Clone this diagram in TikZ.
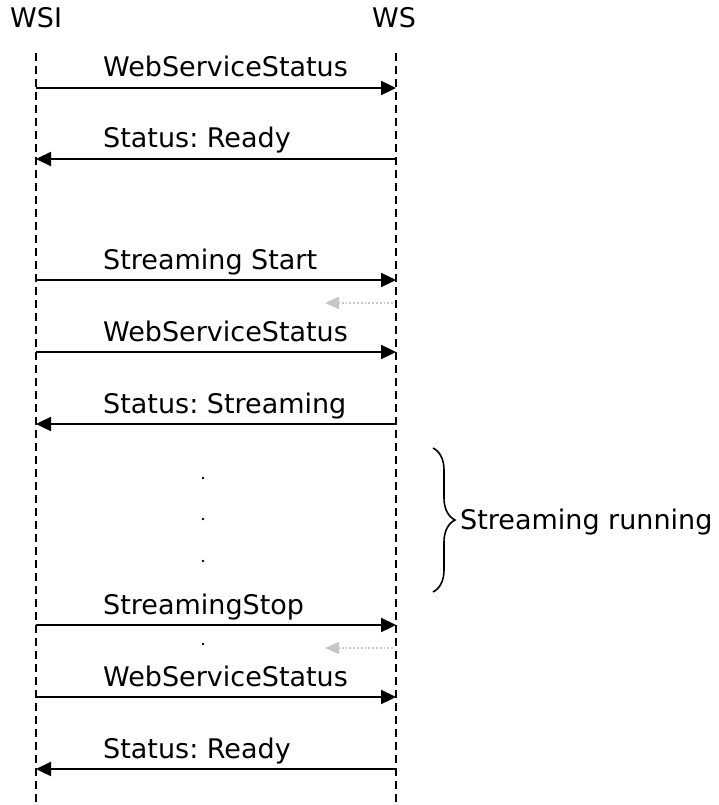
\documentclass[tikz,border=0pt]{standalone}
\usepackage{fontspec}
\setmainfont{DejaVu Sans}
\usetikzlibrary{arrows.meta,decorations.pathreplacing}
\begin{document}
\begin{tikzpicture}[x=1pt,y=-1pt,
  lbl/.style={font=\fontsize{27}{32}\selectfont, inner sep=0pt, anchor=base west},
  life/.style={dashed, dash pattern=on 8pt off 5pt, line width=1.4pt},
  msg/.style={line width=2.3pt, -{Triangle[length=15pt,width=14pt]}},
  back/.style={gray!45, dotted, line width=1.8pt, -{Triangle[length=14pt,width=12pt]}},
  dotmark/.style={circle, fill=black, inner sep=0pt, minimum size=2.6pt}]
\useasboundingbox (0,0) rectangle (718,805);
\node[lbl, anchor=base west] (wsi) at (10,28) {WSI};
\node[lbl, anchor=base west] (ws) at (372,28) {WS};
\coordinate (Lt) at (36,53); \coordinate (Lb) at (36,805);
\coordinate (Rt) at (396,53); \coordinate (Rb) at (396,805);
\draw[life] (Lt) -- (Lb);
\draw[life] (Rt) -- (Rb);
% messages
\foreach \n/\y in {a/88,b/159,c/280,d/303,e/352,f/424,g/625,h/648,i/697,j/769}{
  \coordinate (L\n) at (36,\y); \coordinate (R\n) at (396,\y);}
\coordinate (Gd) at (325,303); \coordinate (Gh) at (325,648);
\coordinate (Rd2) at (393,303); \coordinate (Rh2) at (393,648);
\draw[msg] (La) -- (Ra);
\node[lbl] (ta) at (103,77) {WebServiceStatus};
\draw[msg] (Rb) -- (Lb);
\node[lbl] (tb) at (103,148) {Status:\ Ready};
\draw[msg] (Lc) -- (Rc);
\node[lbl] (tc) at (103,269) {Streaming Start};
\draw[back] (Rd2) -- (Gd);
\draw[msg] (Le) -- (Re);
\node[lbl] (te) at (103,341) {WebServiceStatus};
\draw[msg] (Rf) -- (Lf);
\node[lbl] (tf) at (103,413) {Status:\ Streaming};
\node[dotmark] (d1) at (203,478) {};
\node[dotmark] (d2) at (203,519) {};
\node[dotmark] (d3) at (203,561) {};
\draw[msg] (Lg) -- (Rg);
\node[lbl] (tg) at (103,614) {StreamingStop};
\node[dotmark] (d4) at (203,644) {};
\draw[back] (Rh2) -- (Gh);
\draw[msg] (Li) -- (Ri);
\node[lbl] (ti) at (103,686) {WebServiceStatus};
\draw[msg] (Rj) -- (Lj);
\node[lbl] (tj) at (103,758) {Status:\ Ready};
% brace
\coordinate (B1) at (433,448); \coordinate (B2) at (433,592);
\draw[line width=1.6pt, decorate, decoration={brace, amplitude=22pt}] (B1) -- (B2);
\node[lbl, anchor=west] (sr) at (460,522) {Streaming running};
\end{tikzpicture}
\end{document}
